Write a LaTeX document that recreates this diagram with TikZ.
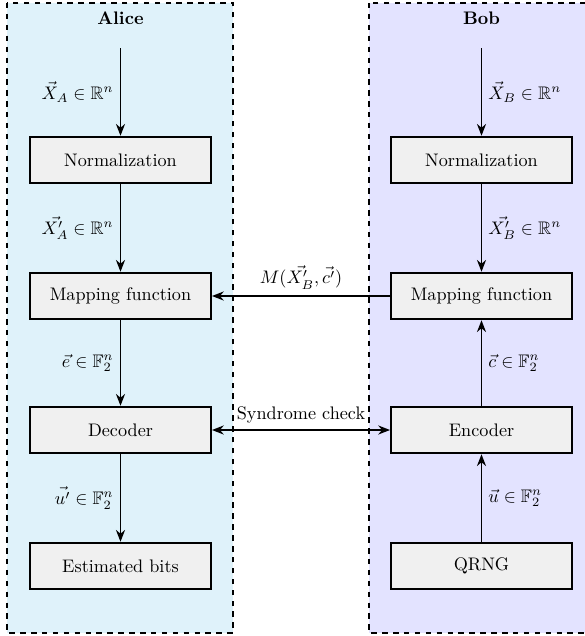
\documentclass[tikz,border=0pt]{standalone}
\usepackage{amssymb}
\usetikzlibrary{arrows.meta}
\definecolor{alicebg}{RGB}{223,242,250}
\definecolor{bobbg}{RGB}{227,227,255}
\definecolor{boxfill}{RGB}{240,240,240}
\tikzset{
  panel/.style={draw=black, line width=1pt, dashed},
  block/.style={draw=black, line width=1.1pt, fill=boxfill, minimum width=3.5cm, minimum height=0.9cm, inner sep=2pt},
  tip/.tip={Stealth[length=6.5pt,width=5pt]},
  flow/.style={-tip, line width=0.9pt},
  flowboth/.style={tip-tip, line width=0.9pt},
  party/.style={font=\bfseries}
}
\begin{document}
\begin{tikzpicture}[x=0.5504pt, y=-0.5504pt]
  \useasboundingbox (0,0) rectangle (585,636);

  % party regions
  \filldraw[panel, fill=alicebg] (7,3) rectangle (233,633);
  \filldraw[panel, fill=bobbg] (369,3) rectangle (594,633);

  \node[party] (alice) at (120.5,18) {Alice};
  \node[party] (bob) at (481.5,18) {Bob};

  % Alice's chain
  \coordinate (ain) at (120.5,48);
  \node[block] (anorm) at (120.5,160) {Normalization};
  \node[block] (amap)  at (120.5,296) {Mapping function};
  \node[block] (adec)  at (120.5,430) {Decoder};
  \node[block] (aest)  at (120.5,566) {Estimated bits};

  % Bob's chain
  \coordinate (bin) at (481.5,48);
  \node[block] (bnorm) at (481.5,160) {Normalization};
  \node[block] (bmap)  at (481.5,296) {Mapping function};
  \node[block] (benc)  at (481.5,430) {Encoder};
  \node[block] (bqrng) at (481.5,566) {QRNG};

  \draw[flow] (ain) -- node[left] {$\vec{X}_A \in \mathbb{R}^n$} (anorm);
  \draw[flow] (anorm) -- node[left] {$\vec{X'_A} \in \mathbb{R}^n$} (amap);
  \draw[flow] (amap) -- node[left] {$\vec{e} \in \mathbb{F}_2^n$} (adec);
  \draw[flow] (adec) -- node[left] {$\vec{u'} \in \mathbb{F}_2^n$} (aest);

  \draw[flow] (bin) -- node[right] {$\vec{X}_B \in \mathbb{R}^n$} (bnorm);
  \draw[flow] (bnorm) -- node[right] {$\vec{X'_B} \in \mathbb{R}^n$} (bmap);
  \draw[flow] (benc) -- node[right] {$\vec{c} \in \mathbb{F}_2^n$} (bmap);
  \draw[flow] (bqrng) -- node[right] {$\vec{u} \in \mathbb{F}_2^n$} (benc);

  % exchanges between the parties
  \draw[flow] (bmap) -- node[above] {$M(\vec{X'_B}, \vec{c'})$} (amap);
  \draw[flowboth] (adec) -- node[above] {Syndrome check} (benc);
\end{tikzpicture}
\end{document}
